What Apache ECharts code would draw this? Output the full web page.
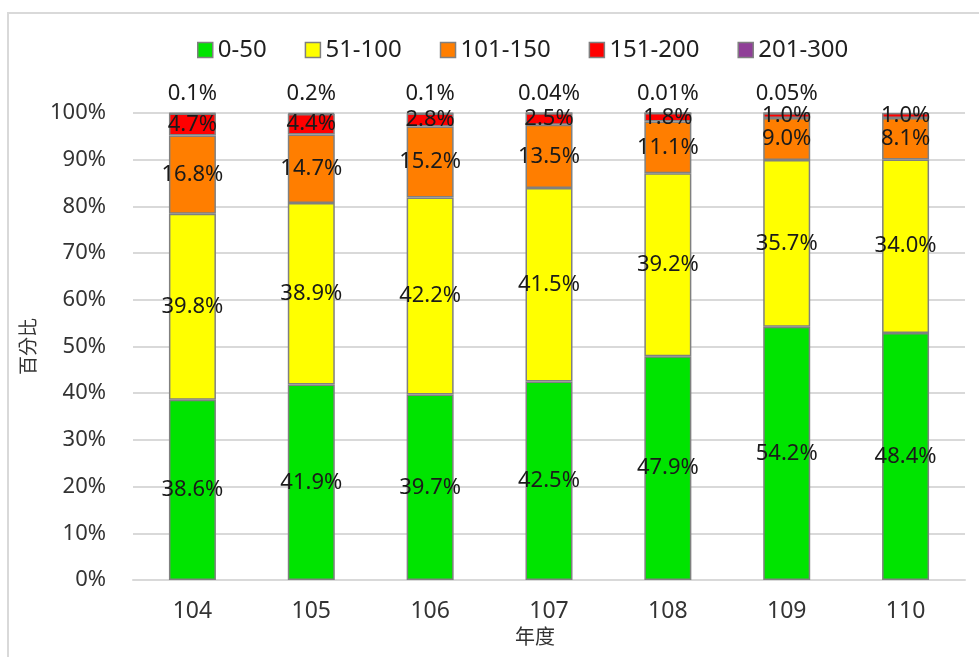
<!DOCTYPE html>
<html>
<head>
<meta charset="utf-8">
<title>AQI 等級比例</title>
<script src="https://cdn.jsdelivr.net/npm/echarts@6/dist/echarts.min.js"></script>
<style>
  html, body { margin: 0; padding: 0; background: #ffffff; }
  #chart { width: 979px; height: 657px; }
</style>
</head>
<body>
<div id="chart"></div>
<script>
// 年度
const years = ['104', '105', '106', '107', '108', '109', '110'];

// 各等級所占百分比 (%)
const seriesNames = ['0-50', '51-100', '101-150', '151-200', '201-300'];
const good      = [38.6, 41.9, 39.7, 42.5, 47.9, 54.2, 48.4];
const moderate  = [39.8, 38.9, 42.2, 41.5, 39.2, 35.7, 34.0];
const sensitive = [16.8, 14.7, 15.2, 13.5, 11.1, 9.0, 8.1];
const unhealthy = [4.7, 4.4, 2.8, 2.5, 1.8, 1.0, 1.0];
const veryBad   = [0.1, 0.2, 0.1, 0.04, 0.01, 0.05, null];

const colors = ['#00e400', '#ffff00', '#ff7e00', '#ff0000', '#8f3f97'];
const FONT = '"Noto Sans", "Noto Sans CJK TC", sans-serif';

const groups = [good, moderate, sensitive, unhealthy, veryBad];

// 每年合計，用於 100% 堆疊
const totals = years.map((_, i) =>
  groups.reduce((s, arr) => s + (arr[i] == null ? 0 : arr[i]), 0));

const series = groups.map((arr, si) => ({
  name: seriesNames[si],
  type: 'bar',
  stack: 'pct',
  barWidth: 47,
  itemStyle: { color: colors[si], borderColor: '#808080', borderWidth: 1.5 },
  label: {
    show: true,
    position: si === 4 ? 'top' : 'inside',
    distance: 8,
    color: '#1a1a1a',
    fontFamily: FONT,
    fontSize: 22,
    formatter: (p) => {
      const raw = arr[p.dataIndex];
      if (raw == null) return '';
      return (si === 4 ? String(raw) : raw.toFixed(1)) + '%';
    }
  },
  data: arr.map((v, i) => (v == null ? null : v / totals[i] * 100))
}));

const chart = echarts.init(document.getElementById('chart'), null, { renderer: 'canvas' });
chart.setOption({
  animation: false,
  backgroundColor: '#ffffff',
  color: colors,
  graphic: [{
    type: 'rect',
    silent: true,
    z: -1,
    shape: { x: 8, y: 13, width: 1000, height: 700 },
    style: { fill: 'none', stroke: '#d9d9d9', lineWidth: 2 }
  }],
  legend: {
    top: 33,
    left: 192,
    itemWidth: 15,
    itemHeight: 15,
    itemGap: 38,
    icon: 'rect',
    itemStyle: { borderColor: '#808080', borderWidth: 1.5 },
    textStyle: { fontFamily: FONT, fontSize: 24, color: '#1f1f1f' },
    data: seriesNames
  },
  grid: { left: 133, right: 14, top: 113, bottom: 77, containLabel: false },
  xAxis: {
    type: 'category',
    data: years,
    name: '年度',
    nameLocation: 'middle',
    nameGap: 48,
    nameTextStyle: { fontFamily: FONT, fontSize: 20, color: '#333333', padding: [0, 28, 0, 0] },
    axisLine: { lineStyle: { color: '#d9d9d9', width: 2 } },
    axisTick: { show: false },
    axisLabel: { margin: 20, fontFamily: FONT, fontSize: 23, color: '#333333' }
  },
  yAxis: {
    type: 'value',
    min: 0,
    max: 100,
    interval: 10,
    name: '百分比',
    nameLocation: 'middle',
    nameRotate: 90,
    nameGap: 81,
    nameTextStyle: { fontFamily: FONT, fontSize: 19, color: '#333333' },
    axisLine: { show: false },
    axisTick: { show: false },
    splitLine: { lineStyle: { color: '#d9d9d9', width: 2 } },
    axisLabel: { margin: 27, fontFamily: FONT, fontSize: 22, color: '#333333', formatter: '{value}%' }
  },
  series: series
});
</script>
</body>
</html>
